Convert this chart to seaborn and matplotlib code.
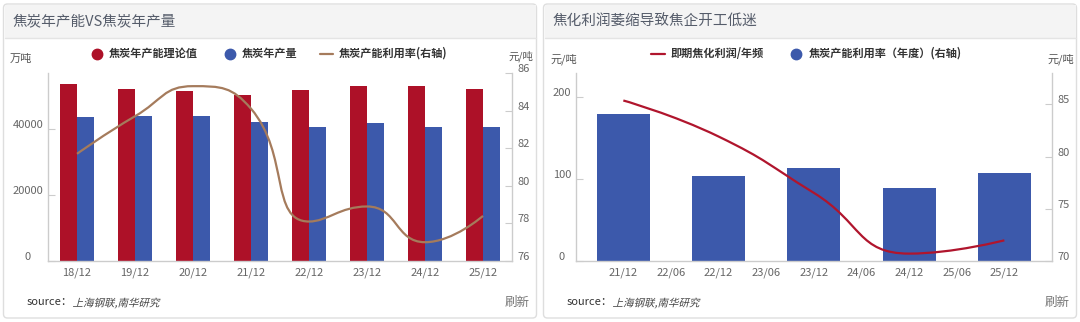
import numpy as np
import pandas as pd
import matplotlib
matplotlib.use("Agg")
import matplotlib.pyplot as plt
import seaborn as sns
from matplotlib.patches import FancyBboxPatch, Rectangle, PathPatch
from matplotlib.lines import Line2D
from matplotlib.path import Path
from matplotlib.textpath import TextPath
from matplotlib.font_manager import FontProperties
from matplotlib.transforms import Affine2D, ScaledTranslation, IdentityTransform

# ---- data -------------------------------------------------------------
years_a = ["18/12", "19/12", "20/12", "21/12", "22/12", "23/12", "24/12", "25/12"]
capacity = [53550, 52300, 51500, 50200, 51800, 53200, 53200, 52000]      # 万吨
output = [43550, 43850, 43850, 42100, 40500, 41900, 40700, 40700]        # 万吨
utilization = [81.7, 83.7, 85.3, 84.1, 78.1, 78.9, 77.0, 78.4]           # %

years_b = ["21/12", "22/12", "23/12", "24/12", "25/12"]
profit = [195.5, 151.6, 83.0, 9.0, 25.2]                                 # 元/吨
util_b = [84.1, 78.1, 78.9, 77.0, 78.4]                                  # %
ticks_b = ["21/12", "22/06", "22/12", "23/06", "23/12", "24/06", "24/12", "25/06", "25/12"]

series_a = ["焦炭年产能理论值", "焦炭年产量"]

# ---- style ------------------------------------------------------------
RED = "#ad1128"
BLUE = "#3c59ab"
BROWN = "#a57b5c"
LINE_RED = "#b0152d"
GRID = "#cccccc"
TICK = "#666666"

sns.set_style("white")
plt.rcParams["font.family"] = ["Noto Sans CJK SC", "DejaVu Sans"]

W, H = 1080, 322
fig = plt.figure(figsize=(W / 100, H / 100), dpi=100)
fig.patch.set_facecolor("white")
PIX = IdentityTransform()


def fx(x):
    return x / W


def fy(y):
    return 1 - y / H


# ---- cards ------------------------------------------------------------
for x0, x1, title in [(3.5, 536.5, "焦炭年产能VS焦炭年产量"),
                      (543.5, 1076.5, "焦化利润萎缩导致焦企开工低迷")]:
    card = FancyBboxPatch((x0, H - 318), x1 - x0, 314,
                          boxstyle="round,pad=0,rounding_size=4",
                          facecolor="white", edgecolor="#dedede", lw=1,
                          transform=PIX, zorder=0)
    fig.add_artist(card)
    bar = Rectangle((x0 + 1, H - 37.5), x1 - x0 - 2, 33, facecolor="#f4f4f4",
                    edgecolor="none", transform=PIX, zorder=0.5)
    fig.add_artist(bar)
    fig.add_artist(Line2D([x0 + 1, x1 - 1], [H - 37.5, H - 37.5], color="#e4e4e4",
                          lw=1, transform=PIX, zorder=0.6))
    fig.text(fx(x0 + 9.5), fy(21.5), title, fontsize=10.5, color="#555c6a",
             va="center", ha="left")
    # footer
    fig.text(fx(x0 + 23.5), fy(302), "source：", fontsize=8, color="#333333",
             va="center", ha="left")
    tp = TextPath((0, 0), "上海钢联,南华研究", size=10.5,
                  prop=FontProperties(family="Noto Sans CJK SC"))
    tr = Affine2D().skew_deg(14, 0).translate(x0 + 69, H - 306.5)
    fig.add_artist(PathPatch(tp, transform=tr, facecolor="#444444",
                             edgecolor="none", zorder=3))
    fig.text(fx(x1 - 7), fy(302), "刷新", fontsize=9, color="#777777",
             va="center", ha="right")


def legend_circle(x, y, color):
    fig.add_artist(Line2D([x], [H - y], marker="o", ms=7.5, color=color,
                          lw=0, transform=PIX))


def legend_line(x0, x1, y, color):
    fig.add_artist(Line2D([x0, x1], [H - y, H - y], color=color, lw=1.6,
                          transform=PIX))


def legend_text(x, y, s):
    fig.text(fx(x), fy(y), s, fontsize=8, fontweight="bold", color="#333333",
             va="center", ha="left")


def shift_labels(axis, dy_px=5):
    off = ScaledTranslation(0, dy_px / 100, fig.dpi_scale_trans)
    for t in axis.get_major_ticks():
        t.label1.set_transform(t.label1.get_transform() + off)
        t.label2.set_transform(t.label2.get_transform() + off)


def echarts_smooth(ax, xs, ys, smooth=0.5):
    """Bezier path through the points, control points built in pixel space."""
    pts = ax.transData.transform(np.column_stack([xs, ys]))
    n = len(pts)
    verts = [tuple(pts[0])]
    codes = [Path.MOVETO]
    cp0 = pts[0].copy()
    prev = pts[0]
    for i in range(1, n):
        cur = pts[i]
        if i == n - 1:
            cp1 = cur.copy()
            ncp = cur.copy()
        else:
            nxt = pts[i + 1]
            v = nxt - prev
            lp = np.hypot(*(cur - prev))
            ln = np.hypot(*(nxt - cur))
            r = ln / (ln + lp)
            ncp = cur + v * smooth * r
            ncp = np.minimum(ncp, np.maximum(nxt, cur))
            ncp = np.maximum(ncp, np.minimum(nxt, cur))
            v = ncp - cur
            cp1 = cur - v * lp / ln
            cp1 = np.minimum(cp1, np.maximum(prev, cur))
            cp1 = np.maximum(cp1, np.minimum(prev, cur))
            v = cur - cp1
            ncp = cur + v * ln / lp
        verts += [tuple(cp0), tuple(cp1), tuple(cur)]
        codes += [Path.CURVE4] * 3
        cp0 = ncp
        prev = cur
    data = ax.transData.inverted().transform(np.array(verts))
    return Path(data, codes)


def style_spines(ax, left=True, right=False, bottom=True):
    for side, on in [("left", left), ("right", right), ("bottom", bottom), ("top", False)]:
        ax.spines[side].set_visible(on)
        ax.spines[side].set_color(GRID)
        ax.spines[side].set_linewidth(1)


# ---- left chart: capacity vs output ------------------------------------
axA = fig.add_axes([fx(48), (H - 261) / H, 464 / W, 188 / H])
dfA = pd.DataFrame({
    "year": years_a * 2,
    "value": capacity + output,
    "series": [series_a[0]] * len(years_a) + [series_a[1]] * len(years_a),
})
sns.barplot(data=dfA, x="year", y="value", hue="series", hue_order=series_a,
            palette=[RED, BLUE], width=0.59, saturation=1, legend=False,
            linewidth=0, ax=axA, zorder=2)
axA.set_xlim(-0.5, len(years_a) - 0.5)
axA.set_ylim(0, 57000)
axA.set_yticks([0, 20000, 40000])
axA.set_xlabel("")
axA.set_ylabel("")
style_spines(axA)
axA.tick_params(axis="y", direction="in", length=5, color=GRID, labelcolor=TICK,
                labelsize=8, pad=14.4)
axA.tick_params(axis="x", length=0, labelcolor=TICK, labelsize=8, pad=4.5)
for t in axA.get_yticklabels():
    t.set_ha("center")

axAr = axA.twinx()
axAr.set_ylim(76, 86)
axAr.set_yticks(np.arange(76, 87, 2))
style_spines(axAr, left=False, right=True, bottom=False)
axAr.tick_params(axis="y", direction="in", length=5, color=GRID, labelcolor=TICK,
                 labelsize=8, pad=3.6)
axAr.add_patch(PathPatch(echarts_smooth(axAr, np.arange(len(years_a)), utilization),
                         facecolor="none", edgecolor=BROWN, lw=1.6, zorder=3))
shift_labels(axA.yaxis)
shift_labels(axAr.yaxis)

fig.text(fx(21), fy(59), "万吨", fontsize=8, color="#555555", ha="center", va="center")
fig.text(fx(521), fy(56), "元/吨", fontsize=7.5, color="#555555", ha="center", va="center")

legend_circle(97, 53.5, RED)
legend_text(109, 53.5, series_a[0])
legend_circle(230, 53.5, BLUE)
legend_text(242, 53.5, series_a[1])
legend_line(320, 333, 53.5, BROWN)
legend_text(339, 53.5, "焦炭产能利用率(右轴)")

# ---- right chart: coking profit vs utilization --------------------------
axB = fig.add_axes([fx(575.7), (H - 261) / H, 476.3 / W, 188 / H])
axBr = axB.twinx()
sns.barplot(x=years_b, y=util_b, color=BLUE, width=0.556, saturation=1,
            linewidth=0, ax=axBr, zorder=2)
axBr.set_ylim(70, 88)
axBr.set_yticks([70, 75, 80, 85])
axBr.set_ylabel("")
style_spines(axBr, left=False, right=True, bottom=False)
axBr.tick_params(axis="y", direction="in", length=5, color=GRID, labelcolor=TICK,
                 labelsize=8, pad=3.6)

axB.set_zorder(axBr.get_zorder() + 1)
axB.patch.set_visible(False)
axB.set_xlim(-0.5, len(years_b) - 0.5)
axB.set_ylim(0, 229)
axB.set_yticks([0, 100, 200])
style_spines(axB)
axB.tick_params(axis="y", direction="in", length=5, color=GRID, labelcolor=TICK,
                labelsize=8, pad=10)
for t in axB.get_yticklabels():
    t.set_ha("center")
xpos_b = np.arange(len(ticks_b)) / 2
axB.set_xticks(xpos_b)
axB.set_xticklabels(ticks_b)
axB.set_xticks(np.arange(len(years_b) - 1) + 0.5, minor=True)
axB.tick_params(axis="x", which="major", length=0, labelcolor=TICK, labelsize=8, pad=4.5)
axB.tick_params(axis="x", which="minor", direction="in", length=5, color=GRID)
axB.add_patch(PathPatch(echarts_smooth(axB, np.arange(len(years_b)), profit),
                        facecolor="none", edgecolor=LINE_RED, lw=1.6, zorder=3))
shift_labels(axB.yaxis)
shift_labels(axBr.yaxis)

fig.text(fx(564), fy(59), "元/吨", fontsize=8, color="#555555", ha="center", va="center")
fig.text(fx(1061), fy(59), "元/吨", fontsize=8, color="#555555", ha="center", va="center")

legend_line(651, 665, 53.5, LINE_RED)
legend_text(671, 53.5, "即期焦化利润/年频")
legend_circle(796, 53.5, BLUE)
legend_text(809, 53.5, "焦炭产能利用率（年度）(右轴)")

fig.savefig("out.png", dpi=100)
